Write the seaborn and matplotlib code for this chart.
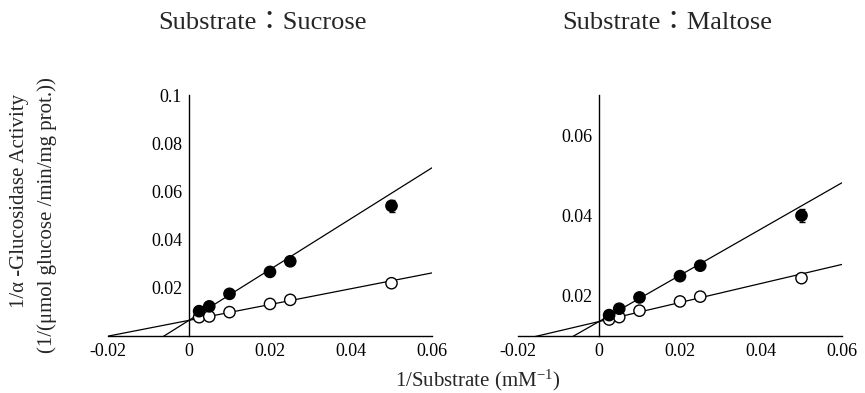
import numpy as np
import pandas as pd
import matplotlib
matplotlib.use("Agg")
import matplotlib.pyplot as plt
import seaborn as sns
from matplotlib.ticker import MultipleLocator

# ---------------- data ----------------
inv_substrate = [0.0025, 0.005, 0.01, 0.02, 0.025, 0.05]

sucrose_open = [0.0078, 0.0081, 0.0099, 0.0133, 0.0150, 0.0219]
sucrose_filled = [0.0103, 0.0123, 0.0175, 0.0266, 0.0310, 0.0540]
sucrose_filled_err = [0.0, 0.0, 0.0, 0.0, 0.0, 0.0025]

maltose_open = [0.0141, 0.0147, 0.0163, 0.0186, 0.0198, 0.0244]
maltose_filled = [0.0152, 0.0168, 0.0196, 0.0249, 0.0275, 0.0400]
maltose_filled_err = [0.0, 0.0, 0.0, 0.0, 0.0, 0.0017]

# fitted Lineweaver-Burk lines (shared intercept, slopes open / filled)
sucrose_fit_intercept = 0.0065
sucrose_fit_slopes = [0.328, 1.055]
maltose_fit_intercept = 0.0136
maltose_fit_slopes = [0.237, 0.576]

titles = ["Substrate\uff1aSucrose", "Substrate\uff1aMaltose"]
x_range = [-0.02, 0.06]
x_ticks = [-0.02, 0, 0.02, 0.04, 0.06]
x_ticklabels = ["-0.02", "0", "0.02", "0.04", "0.06"]
sucrose_ylim = [0.0, 0.1]
sucrose_yticks = [0.02, 0.04, 0.06, 0.08, 0.1]
sucrose_yticklabels = ["0.02", "0.04", "0.06", "0.08", "0.1"]
maltose_ylim = [0.01, 0.07]
maltose_yticks = [0.02, 0.04, 0.06]
maltose_yticklabels = ["0.02", "0.04", "0.06"]

# ---------------- style ----------------
sns.set_style("white")
plt.rcParams["font.family"] = ["Liberation Serif", "Noto Sans CJK JP", "DejaVu Serif"]
plt.rcParams["mathtext.fontset"] = "custom"
plt.rcParams["mathtext.rm"] = "Liberation Serif"
plt.rcParams["mathtext.it"] = "Liberation Serif:italic"

W, H = 865, 393
fig = plt.figure(figsize=(W / 100, H / 100), dpi=100)

def ax_rect(x0, x1, ytop, ybot):
    return [x0 / W, 1 - ybot / H, (x1 - x0) / W, (ybot - ytop) / H]

ax1 = fig.add_axes(ax_rect(108, 432, 95, 336))
ax2 = fig.add_axes(ax_rect(518, 842, 95, 336))

panels = [
    (ax1, sucrose_open, sucrose_filled, sucrose_filled_err, sucrose_fit_intercept,
     sucrose_fit_slopes, sucrose_ylim, sucrose_yticks, sucrose_yticklabels, False),
    (ax2, maltose_open, maltose_filled, maltose_filled_err, maltose_fit_intercept,
     maltose_fit_slopes, maltose_ylim, maltose_yticks, maltose_yticklabels, True),
]

for ax, y_open, y_filled, err, b, slopes, ylim, yt, ytl, minor in panels:
    # fitted lines
    xs = np.array(x_range)
    for s in slopes:
        sns.lineplot(x=xs, y=b + s * xs, ax=ax, color="black", linewidth=0.9,
                     zorder=2)
    # error bars
    ax.errorbar(inv_substrate, y_filled, yerr=err, fmt="none", ecolor="black",
                elinewidth=1.0, capsize=2.0, capthick=1.0, zorder=3)
    df = pd.DataFrame({
        "x": inv_substrate * 2,
        "y": list(y_open) + list(y_filled),
        "group": ["open"] * len(y_open) + ["filled"] * len(y_filled),
    })
    sns.scatterplot(data=df, x="x", y="y", hue="group",
                    palette={"open": "white", "filled": "black"},
                    edgecolor="black", linewidth=1.0, s=66, legend=False,
                    ax=ax, zorder=4)
    ax.set_xlim(x_range)
    ax.set_ylim(ylim)
    ax.set_xticks(x_ticks)
    ax.set_xticklabels(x_ticklabels)
    ax.set_yticks(yt)
    ax.set_yticklabels(ytl)
    if minor:
        ax.xaxis.set_minor_locator(MultipleLocator(0.01))
        ax.yaxis.set_minor_locator(MultipleLocator(0.01))
    ax.tick_params(which="both", direction="in", length=4, width=1,
                   colors="black", labelsize=13, pad=5)
    ax.spines["left"].set_position(("data", 0))
    ax.spines["right"].set_visible(False)
    ax.spines["top"].set_visible(False)
    for sp in ("left", "bottom"):
        ax.spines[sp].set_color("black")
        ax.spines[sp].set_linewidth(1.0)
    ax.set_xlabel("")
    ax.set_ylabel("")
    ax.patch.set_alpha(0)

fig.text(262 / W, 1 - 23 / H, titles[0], ha="center", va="center", fontsize=19)
fig.text(667 / W, 1 - 23 / H, titles[1], ha="center", va="center", fontsize=19)

fig.text(20 / W, 1 - 201 / H, "1/\u03b1 -Glucosidase Activity", rotation=90,
         ha="center", va="center", fontsize=15)
fig.text(47 / W, 1 - 215 / H, "(1/(\u03bcmol glucose /min/mg prot.))", rotation=90,
         ha="center", va="center", fontsize=15)
fig.text(478 / W, 1 - 380 / H, "1/Substrate (mM$^{\\mathregular{-1}}$)",
         ha="center", va="center", fontsize=15)

fig.savefig("out.png", dpi=100, facecolor="white")
